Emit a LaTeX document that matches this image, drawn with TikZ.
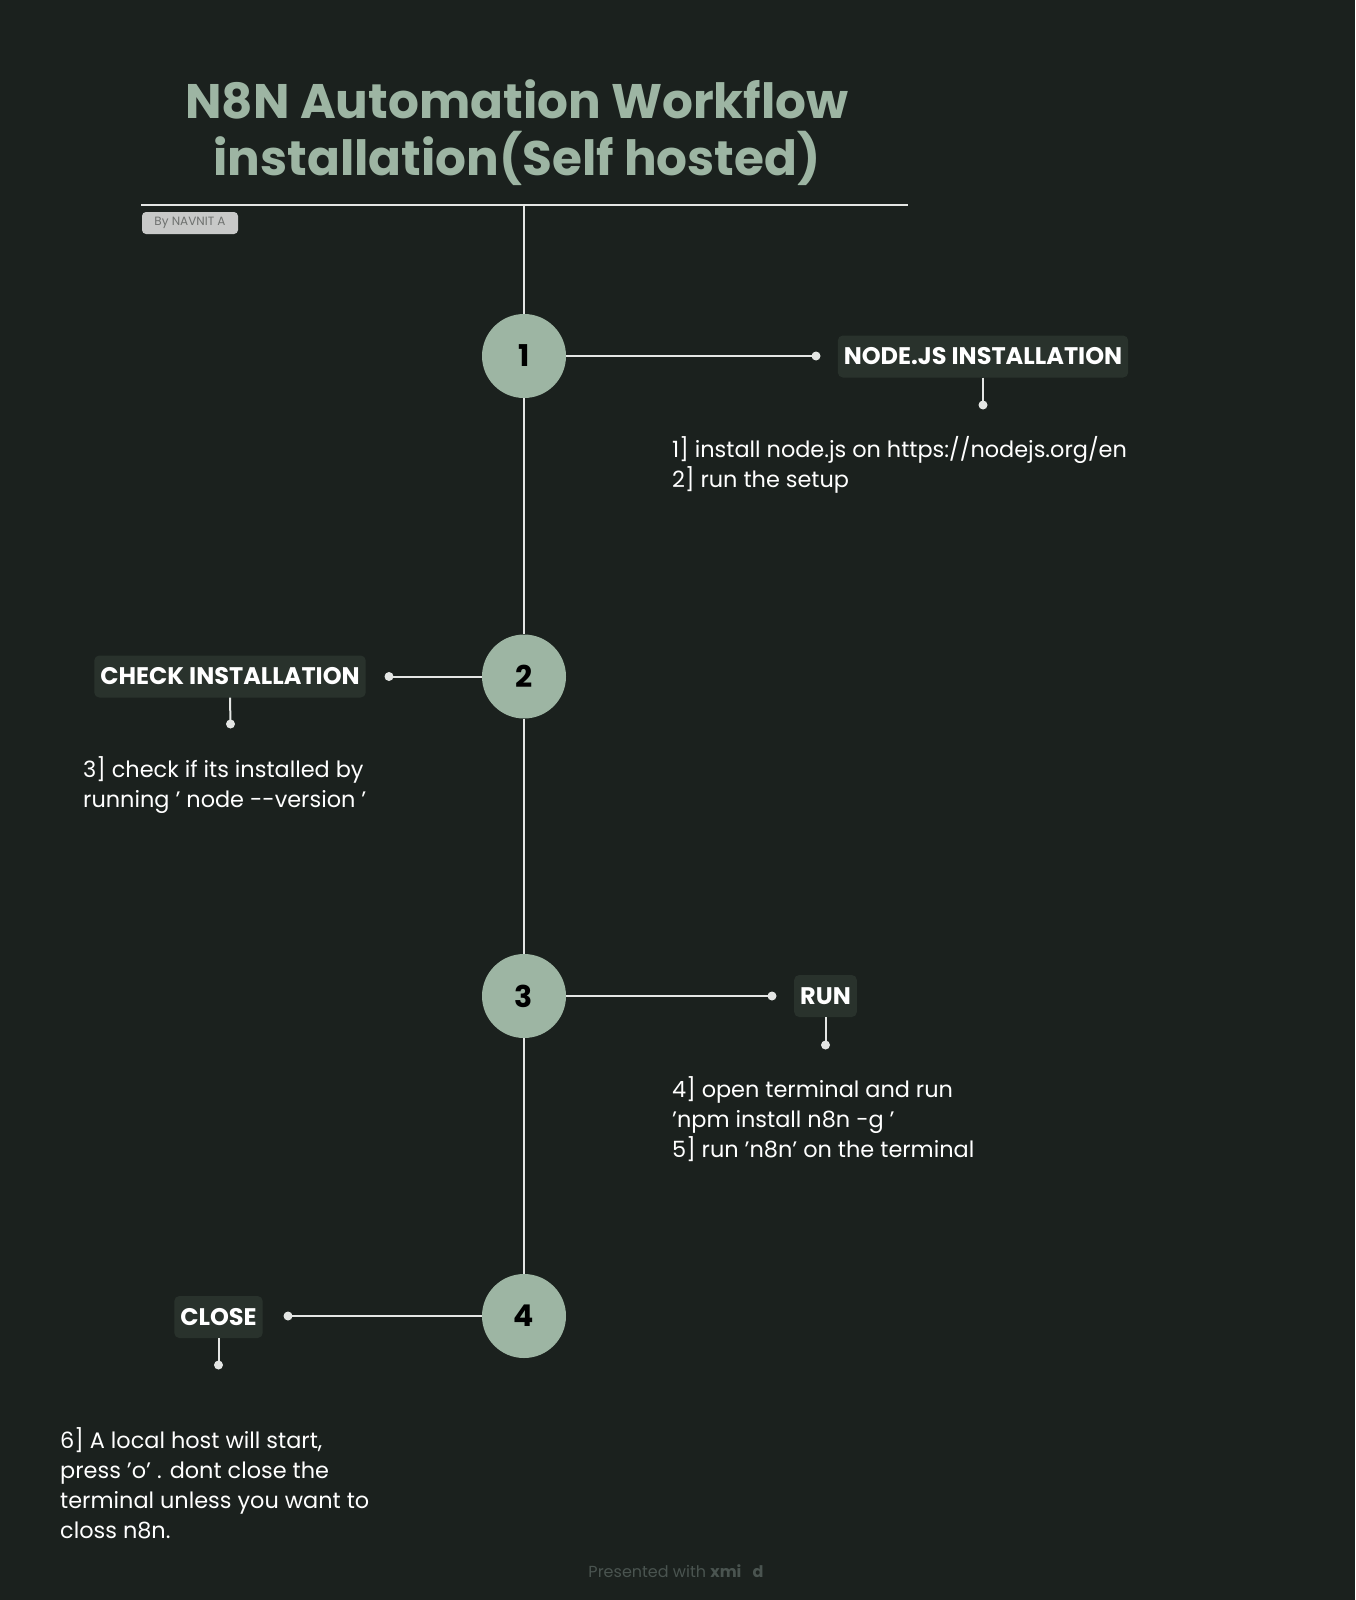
\documentclass[tikz,border=0pt]{standalone}
\usepackage{fontspec}
\setmainfont{Poppins}
\definecolor{bg}{HTML}{1B211E}
\definecolor{sage}{HTML}{9DB5A3}
\definecolor{boxc}{HTML}{29322C}
\definecolor{linec}{HTML}{E4E6E4}
\definecolor{badge}{HTML}{C8C9C8}
\definecolor{badgetxt}{HTML}{6E716F}
\definecolor{foot}{HTML}{4A5450}
\tikzset{
  titletext/.style={text=sage, font=\fontsize{48.5}{58}\selectfont\bfseries, inner sep=0},
  stepcirc/.style={circle, fill=sage, minimum size=84pt, inner sep=0, text=black, font=\fontsize{30}{36}\selectfont\bfseries},
  lbl/.style={rounded corners=5pt, fill=boxc, text=white, minimum height=42pt, inner xsep=6pt, inner ysep=0pt, font=\fontsize{24}{28}\selectfont\bfseries},
  body/.style={text=white, align=left, inner sep=0, anchor=north west, font=\fontsize{22.4}{30}\selectfont},
  conn/.style={draw=linec, line width=2pt},
  dotc/.style={fill=linec}
}
\begin{document}
\begin{tikzpicture}[x=1pt,y=-1pt]
\fill[bg] (0,0) rectangle (1355,1600);
\useasboundingbox (0,0) rectangle (1355,1600);

% title
\node[titletext] (t1) at (517,99) {N8N Automation Workflow};
\node[titletext] (t2) at (517,158) {installation(Self hosted)};
\coordinate (hl) at (141,205);
\coordinate (hr) at (908,205);
\coordinate (top) at (524,205);
\draw[conn] (hl) -- (hr);
\node[fill=badge, rounded corners=4pt, text=badgetxt, minimum width=96pt, minimum height=22pt, inner sep=0, font=\fontsize{12}{14}\selectfont] (by) at (190,223) {By NAVNIT A};

% circles
\node[stepcirc] (c1) at (524,356) {1};
\node[stepcirc] (c2) at (524,676.5) {2};
\node[stepcirc] (c3) at (524,996) {3};
\node[stepcirc] (c4) at (524,1316) {4};
\draw[conn] (top) -- (c1);
\draw[conn] (c1) -- (c2);
\draw[conn] (c2) -- (c3);
\draw[conn] (c3) -- (c4);

% step 1
\coordinate (d1) at (816,356);
\draw[conn] (c1.east) -- (d1);
\fill[dotc] (d1) circle (4.5);
\node[lbl] (l1) at (983,356.5) {NODE.JS INSTALLATION};
\coordinate (e1) at (983,405);
\draw[conn] (l1.south) -- (e1);
\fill[dotc] (e1) circle (4.5);
\node[body] (b1) at (672,436) {1] install node.js on https://nodejs.org/en\\2] run the setup};

% step 2
\coordinate (d2) at (389,676.5);
\draw[conn] (c2.west) -- (d2);
\fill[dotc] (d2) circle (4.5);
\node[lbl] (l2) at (230,676.5) {CHECK INSTALLATION};
\coordinate (e2) at (230.5,724);
\draw[conn] (l2.south) -- (e2);
\fill[dotc] (e2) circle (4.5);
\node[body] (b2) at (83,756) {3] check if its installed by\\running ' node -{}-version '};

% step 3
\coordinate (d3) at (772,996);
\draw[conn] (c3.east) -- (d3);
\fill[dotc] (d3) circle (4.5);
\node[lbl] (l3) at (825.5,996) {RUN};
\coordinate (e3) at (825.5,1045);
\draw[conn] (l3.south) -- (e3);
\fill[dotc] (e3) circle (4.5);
\node[body] (b3) at (672,1076) {4] open terminal and run\\'npm install n8n -g '\\5] run 'n8n' on the terminal};

% step 4
\coordinate (d4) at (288,1316);
\draw[conn] (c4.west) -- (d4);
\fill[dotc] (d4) circle (4.5);
\node[lbl] (l4) at (218.5,1317) {CLOSE};
\coordinate (e4) at (218.5,1365);
\draw[conn] (l4.south) -- (e4);
\fill[dotc] (e4) circle (4.5);
\node[body] (b4) at (60,1427) {6] A local host will start,\\press 'o' . dont close the\\terminal unless you want to\\closs n8n.};

% footer
\node[text=foot, inner sep=0, font=\fontsize{16}{18}\selectfont] (ft) at (676,1571) {Presented with \textbf{xmi\hspace{0.7em}d}};
\end{tikzpicture}
\end{document}
